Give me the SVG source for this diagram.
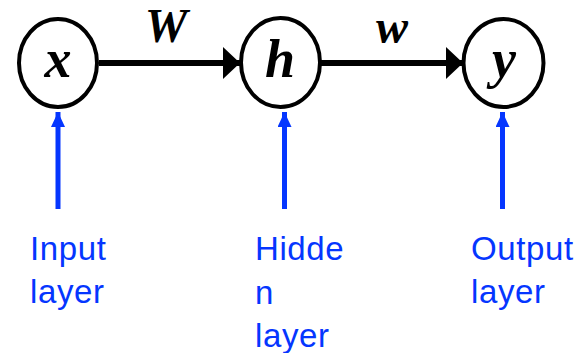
<svg xmlns="http://www.w3.org/2000/svg" width="584" height="353" viewBox="0 0 584 353">
<style>
.node{fill:#fff;stroke:#000;stroke-width:4}
.var{font-family:"Liberation Serif",serif;font-weight:bold;font-style:italic;font-size:54px;fill:#000;text-anchor:middle}
.wl{font-family:"Liberation Serif",serif;font-weight:bold;font-style:italic;font-size:48px;fill:#000;text-anchor:middle}
.edge{stroke:#000;stroke-width:6;fill:none}
.blue{stroke:#0536ff;stroke-width:5;fill:none}
.lbl{font-family:"Liberation Sans",Arial,sans-serif;font-size:33px;letter-spacing:0.6px;fill:#0536ff}
</style>
<defs>
<marker id="ah" viewBox="0 0 17 32" refX="17" refY="16" markerWidth="17" markerHeight="32" markerUnits="userSpaceOnUse" orient="auto">
<path d="M0,0 L17,16 L0,32 Z" fill="#000"/>
</marker>
<marker id="bh" viewBox="0 0 15 14" refX="15" refY="7" markerWidth="15" markerHeight="14" markerUnits="userSpaceOnUse" orient="auto">
<path d="M0,0 L15,7 L0,14 Z" fill="#0536ff"/>
</marker>
</defs>
<g id="connectors">
<line class="edge" x1="99" y1="63" x2="240" y2="63" marker-end="url(#ah)"/>
<line class="edge" x1="321" y1="63" x2="463" y2="63" marker-end="url(#ah)"/>
<text class="wl" x="166" y="42">W</text>
<text class="wl" x="392" y="43">w</text>
<line class="blue" x1="58" y1="209" x2="58" y2="112" marker-end="url(#bh)"/>
<line class="blue" x1="284.5" y1="209" x2="284.5" y2="112" marker-end="url(#bh)"/>
<line class="blue" x1="502.5" y1="209" x2="502.5" y2="112" marker-end="url(#bh)"/>
</g>
<g id="node-x">
<ellipse class="node" cx="58" cy="63" rx="39" ry="44"/>
<text class="var" x="58" y="77">x</text>
</g>
<g id="node-h">
<ellipse class="node" cx="280.5" cy="62.5" rx="39.5" ry="44.5"/>
<text class="var" x="280" y="77">h</text>
</g>
<g id="node-y">
<ellipse class="node" cx="503.5" cy="63" rx="40" ry="44"/>
<text class="var" x="504" y="77">y</text>
</g>
<g id="label-input">
<text class="lbl" x="30" y="260">Input</text>
<text class="lbl" x="30" y="303">layer</text>
</g>
<g id="label-hidden">
<text class="lbl" x="255" y="260">Hidde</text>
<text class="lbl" x="255" y="304">n</text>
<text class="lbl" x="255" y="347">layer</text>
</g>
<g id="label-output">
<text class="lbl" x="471" y="260">Output</text>
<text class="lbl" x="471" y="303">layer</text>
</g>
</svg>
